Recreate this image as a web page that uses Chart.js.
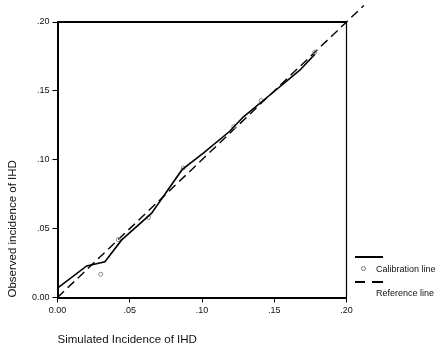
<!DOCTYPE html>
<html>
<head>
<meta charset="utf-8">
<script src="https://cdn.jsdelivr.net/npm/chart.js@4"></script>
<style>
  body { margin: 0; background: #fff; }
  #wrap { position: relative; width: 442px; height: 351px; font-family: "Liberation Sans", Arial, sans-serif; }
  .lg { position: absolute; font-size: 9px; color: #111; white-space: nowrap; }
</style>
</head>
<body>
<div id="wrap">
  <canvas id="calChart" width="442" height="351"></canvas>
  <div style="position:absolute;left:355px;top:256px;width:28px;height:1.5px;background:#000"></div>
  <div style="position:absolute;left:361px;top:266px;width:3px;height:3px;border:1px solid #777;border-radius:50%"></div>
  <div class="lg" style="left:376px;top:264px">Calibration line</div>
  <div style="position:absolute;left:355px;top:281px;width:10px;height:1.5px;background:#000"></div>
  <div style="position:absolute;left:372px;top:281px;width:11px;height:1.5px;background:#000"></div>
  <div class="lg" style="left:376px;top:288px">Reference line</div>
</div>
<script>
// calibration curve
const simX = [0, 0.0202, 0.0328, 0.0444, 0.065, 0.0862, 0.1009, 0.119, 0.1285, 0.147, 0.1677, 0.178];
const obsY = [0.0068, 0.0229, 0.026, 0.0418, 0.061, 0.0928, 0.1048, 0.1205, 0.131, 0.147, 0.165, 0.1765];

// grouped points (circles)
const ptX = [0.0299, 0.042, 0.063, 0.087, 0.122, 0.141, 0.178];
const ptY = [0.0169, 0.042, 0.058, 0.094, 0.124, 0.143, 0.178];

// diagonal reference line, runs past the frame
const refX = [0, 0.212];
const refY = [0, 0.212];

const xTickLabels = ["0.00", ".05", ".10", ".15", ".20"];
const yTickLabels = ["0.00", ".05", ".10", ".15", ".20"];

function toPoints(xs, ys) {
    return xs.map((x, i) => ({ x: x, y: ys[i] }));
}

const frame = {
    id: "frame",
    afterDraw(chart) {
        const a = chart.chartArea;
        const ctx = chart.ctx;
        ctx.save();
        ctx.strokeStyle = "#000";
        ctx.lineWidth = 2;
        ctx.beginPath();
        ctx.moveTo(a.left, a.top);
        ctx.lineTo(a.right, a.top);
        ctx.stroke();
        ctx.lineWidth = 1.2;
        ctx.beginPath();
        ctx.moveTo(a.right, a.top);
        ctx.lineTo(a.right, a.bottom);
        ctx.stroke();
        ctx.restore();
    }
};

new Chart(document.getElementById("calChart"), {
    type: "scatter",
    data: {
        datasets: [
            {
                label: "Calibration line",
                data: toPoints(simX, obsY),
                showLine: true,
                borderColor: "#000",
                borderWidth: 1.6,
                pointRadius: 0
            },
            {
                label: "points",
                data: toPoints(ptX, ptY),
                showLine: false,
                pointRadius: 2,
                pointBorderWidth: 1,
                pointBorderColor: "#888",
                pointBackgroundColor: "rgba(0,0,0,0)"
            },
            {
                label: "Reference line",
                data: toPoints(refX, refY),
                showLine: true,
                borderColor: "#000",
                borderWidth: 1.4,
                borderDash: [9, 5],
                pointRadius: 0,
                clip: false
            }
        ]
    },
    options: {
        responsive: false,
        animation: false,
        layout: { padding: { left: 0, top: 22, right: 95.5, bottom: 0 } },
        plugins: { legend: { display: false }, tooltip: { enabled: false } },
        scales: {
            x: {
                type: "linear",
                min: 0,
                max: 0.2,
                afterFit: s => { s.height = 53.5; },
                ticks: {
                    stepSize: 0.05,
                    color: "#111",
                    padding: 3,
                    maxRotation: 0,
                    font: { family: "Liberation Sans", size: 9 },
                    callback: (v, i) => xTickLabels[i]
                },
                grid: { drawOnChartArea: false, drawTicks: true, tickLength: 5, color: "#000" },
                border: { display: true, color: "#000", width: 2 },
                title: {
                    display: true,
                    text: "Simulated Incidence of IHD",
                    align: "start",
                    color: "#111",
                    padding: { top: 0, bottom: 4 },
                    font: { family: "Liberation Sans", size: 11.5 }
                }
            },
            y: {
                type: "linear",
                min: 0,
                max: 0.2,
                afterFit: s => { s.width = 57.5; },
                ticks: {
                    stepSize: 0.05,
                    color: "#111",
                    padding: 3,
                    font: { family: "Liberation Sans", size: 9 },
                    callback: (v, i) => yTickLabels[i]
                },
                grid: { drawOnChartArea: false, drawTicks: true, tickLength: 5, color: "#000" },
                border: { display: true, color: "#000", width: 2 },
                title: {
                    display: true,
                    text: "Observed incidence of IHD",
                    align: "start",
                    color: "#111",
                    padding: { top: 6, bottom: 0 },
                    font: { family: "Liberation Sans", size: 11.5 }
                }
            }
        }
    },
    plugins: [frame]
});
</script>
</body>
</html>
